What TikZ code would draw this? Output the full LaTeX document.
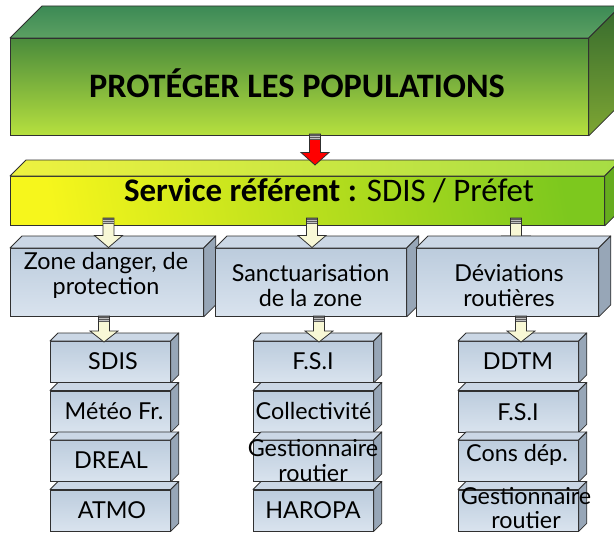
\documentclass[tikz,border=0pt]{standalone}
\usepackage{fontspec}
\setmainfont{Lato}
\newfontfamily\headfont{Carlito}
\usetikzlibrary{calc}
\definecolor{gfronttop}{HTML}{4A8B3C}
\definecolor{gfrontbot}{HTML}{B6E03E}
\definecolor{gtopback}{HTML}{3C8A55}
\definecolor{gtopfront}{HTML}{5CA062}
\definecolor{gsidetop}{HTML}{356A2E}
\definecolor{gsidebot}{HTML}{7EA633}
\definecolor{yleft}{HTML}{F6F61C}
\definecolor{yright}{HTML}{7DC81E}
\definecolor{ytopleft}{HTML}{EEF240}
\definecolor{ytopright}{HTML}{A6DC44}
\definecolor{yside}{HTML}{66AC1E}
\definecolor{bfronttop}{HTML}{BCCCDD}
\definecolor{bfrontbot}{HTML}{D9E3EE}
\definecolor{btop}{HTML}{CBD7E5}
\definecolor{bside}{HTML}{97A6B7}
\definecolor{cream}{HTML}{F8F8D6}
\definecolor{edge}{HTML}{303030}
\tikzset{
  front/.style={draw=edge, line width=0.6pt, rectangle, inner sep=0pt},
  bluefront/.style={front, top color=bfronttop, bottom color=bfrontbot},
  facedraw/.style={draw=edge, line width=0.6pt, line join=round},
  txt/.style={inner sep=0pt, align=center, font=\fontsize{17.5}{19}\selectfont},
}
% 3D faces for a front node #1, depth #2 (px), top style #3, side style #4
\newcommand\faces[4]{%
  \path[facedraw,#3] (#1.north west) -- ++(#2,-#2) -- ($(#1.north east)+(#2,-#2)$) -- (#1.north east) -- cycle;
  \path[facedraw,#4] (#1.north east) -- ++(#2,-#2) -- ($(#1.south east)+(#2,-#2)$) -- (#1.south east) -- cycle;
}
% block arrow between coordinates #1 (start) and #2 (tip), fill #3, head length #4 px
\newcommand\blockarrow[4]{%
  \path[draw=edge, line width=0.6pt, fill=#3, line join=miter]
    let \p1=(#1), \p2=(#2) in
    (\x1-4.1pt,\y1) -- (\x1-4.1pt,\y2+#4*0.75pt) -- (\x1-10.5pt,\y2+#4*0.75pt) -- (\x2,\y2)
    -- (\x1+10.5pt,\y2+#4*0.75pt) -- (\x1+4.1pt,\y2+#4*0.75pt) -- (\x1+4.1pt,\y1) -- cycle;
  \path[fill=edge!80] let \p1=(#1) in (\x1-4.1pt,\y1) rectangle (\x1+4.1pt,\y1-4.5pt);
  \path[draw=white!70!edge, line width=0.5pt] let \p1=(#1) in
    (\x1-4.1pt,\y1-1.5pt) -- (\x1+4.1pt,\y1-1.5pt)
    (\x1-4.1pt,\y1-3pt) -- (\x1+4.1pt,\y1-3pt);
}
\begin{document}
\begin{tikzpicture}[x=0.75pt,y=-0.75pt]
\useasboundingbox (0,0) rectangle (614,535);
\clip (0,0) rectangle (614,535);
% ---------- top box
\node[front, top color=gfronttop, bottom color=gfrontbot, minimum width=578*0.75pt, minimum height=97*0.75pt, anchor=north west] (top) at (10,38) {};
\faces{top}{32}{top color=gtopback, bottom color=gtopfront}{top color=gsidetop, bottom color=gsidebot}
\node[inner sep=0pt, font=\headfont\bfseries\fontsize{25.7}{28}\selectfont] (toptext) at (297,83) {PROTÉGER LES POPULATIONS};
% ---------- service bar
\node[front, left color=yleft, right color=yright, shading angle=100, minimum width=594*0.75pt, minimum height=49*0.75pt, anchor=north west] (svc) at (10,176) {};
\faces{svc}{16}{left color=ytopleft, right color=ytopright}{fill=yside}
\node[inner sep=0pt, font=\headfont\fontsize{24.7}{27}\selectfont] (svctext) at (329,191) {\textbf{Service référent :} SDIS / Préfet};
% red arrow
\coordinate (ra1) at (315,134);
\coordinate (ra2) at (315,165);
\blockarrow{ra1}{ra2}{red}{12.5}
% ---------- arrow to third mid box (behind its box)
\coordinate (ca3s) at (516,218);
\coordinate (ca3e) at (516,248);
\blockarrow{ca3s}{ca3e}{cream}{12}
% ---------- mid boxes
\node[bluefront, minimum width=193*0.75pt, minimum height=68*0.75pt, anchor=north west] (m1) at (10,248) {};
\faces{m1}{12}{fill=btop}{fill=bside}
\node[bluefront, minimum width=191*0.75pt, minimum height=68*0.75pt, anchor=north west] (m2) at (215,248) {};
\faces{m2}{12}{fill=btop}{fill=bside}
\node[bluefront, minimum width=182*0.75pt, minimum height=68*0.75pt, anchor=north west] (m3) at (416,248) {};
\faces{m3}{12}{fill=btop}{fill=bside}
\node[txt] (m1t) at (106,275.5) {Zone danger, de\\protection};
\node[txt] (m2t) at (310.5,285.5) {Sanctuarisation\\de la zone};
\node[txt] (m3t) at (509,285.5) {Déviations\\routières};
\coordinate (ca1s) at (108.5,218);
\coordinate (ca1e) at (108.5,247.5);
\blockarrow{ca1s}{ca1e}{cream}{12}
\coordinate (ca2s) at (312,218);
\coordinate (ca2e) at (312,247.5);
\blockarrow{ca2s}{ca2e}{cream}{12}
% ---------- lower columns
\foreach \col/\x in {a/50,b/253,c/458}{
  \foreach \i in {1,...,4}{
    \node[bluefront, minimum width=120*0.75pt, minimum height=41*0.75pt, anchor=north west] (\col\i) at (\x,{341+49.5*(\i-1)}) {};
    \faces{\col\i}{8}{fill=btop}{fill=bside}
  }
}
\node[txt] (a1t) at (113,361.5) {SDIS};
\node[txt] (a2t) at (114,411) {Météo Fr.};
\node[txt] (a3t) at (111,460.5) {DREAL};
\node[txt] (a4t) at (112,510.5) {ATMO};
\node[txt] (b1t) at (313,361.5) {F.S.I};
\node[txt] (b2t) at (313.5,411) {Collectivité};
\node[txt, font=\fontsize{17.5}{19}\selectfont] (b3t) at (313,460.5) {Gestionnaire\\routier};
\node[txt] (b4t) at (313,510.5) {HAROPA};
\node[txt] (c1t) at (518,361.5) {DDTM};
\node[txt] (c2t) at (518,412) {F.S.I};
\node[txt] (c3t) at (517,455) {Cons dép.};
\node[txt, font=\fontsize{17.5}{18}\selectfont] (c4t) at (526,508.5) {Gestionnaire\\routier};
% arrows to lower columns
\coordinate (la1s) at (104,316);
\coordinate (la1e) at (104,342);
\blockarrow{la1s}{la1e}{cream}{11}
\coordinate (la2s) at (319,316);
\coordinate (la2e) at (319,342);
\blockarrow{la2s}{la2e}{cream}{11}
\coordinate (la3s) at (521,316);
\coordinate (la3e) at (521,342);
\blockarrow{la3s}{la3e}{cream}{11}
\end{tikzpicture}
\end{document}
